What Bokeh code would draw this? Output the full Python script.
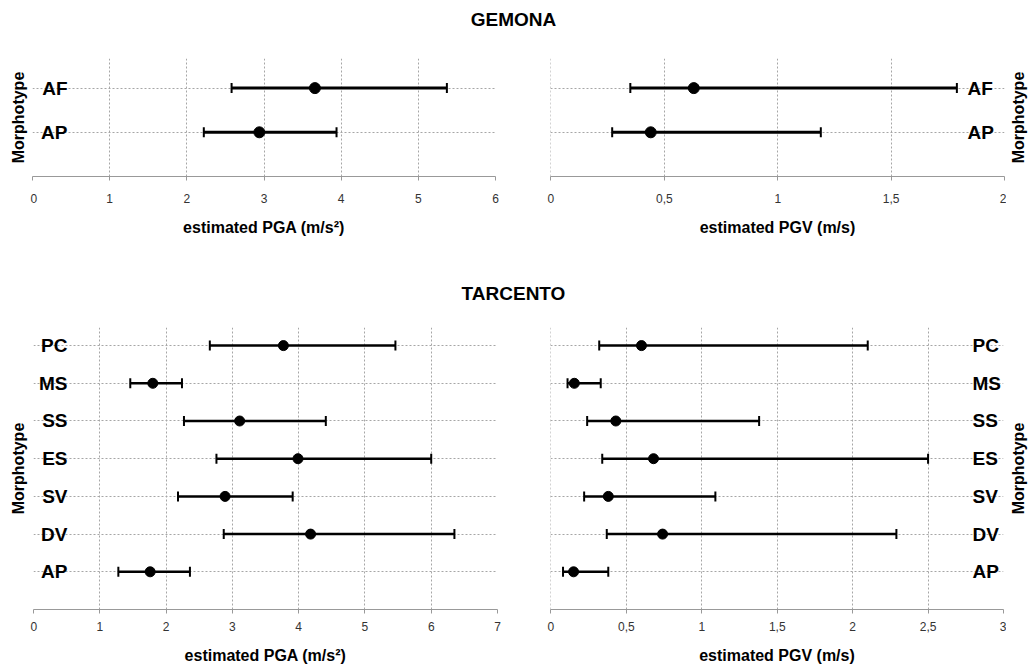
import math
from bokeh.plotting import figure
from bokeh.models import Range1d, FixedTicker, Whisker, ColumnDataSource, Label, TeeHead
from bokeh.layouts import column, row
from bokeh.embed import file_html
from bokeh.resources import INLINE

FONT = "Liberation Sans"

# ---------------- data ----------------
gemona_types = ["AP", "AF"]
gemona_pga_mean = [2.94, 3.66]
gemona_pga_low = [2.22, 2.58]
gemona_pga_high = [3.94, 5.37]
gemona_pgv_mean = [0.44, 0.63]
gemona_pgv_low = [0.27, 0.35]
gemona_pgv_high = [1.19, 1.79]

tarcento_types = ["AP", "DV", "SV", "ES", "SS", "MS", "PC"]
tarcento_pga_mean = [1.76, 4.18, 2.89, 3.99, 3.11, 1.80, 3.77]
tarcento_pga_low = [1.28, 2.87, 2.18, 2.76, 2.27, 1.46, 2.66]
tarcento_pga_high = [2.36, 6.35, 3.91, 6.00, 4.41, 2.24, 5.46]
tarcento_pgv_mean = [0.15, 0.74, 0.38, 0.68, 0.43, 0.155, 0.60]
tarcento_pgv_low = [0.08, 0.37, 0.22, 0.34, 0.24, 0.11, 0.32]
tarcento_pgv_high = [0.38, 2.29, 1.09, 2.50, 1.38, 0.33, 2.10]

gemona_pga_ticks = [0, 1, 2, 3, 4, 5, 6]
gemona_pga_labels = ["0", "1", "2", "3", "4", "5", "6"]
gemona_pgv_ticks = [0, 0.5, 1, 1.5, 2]
gemona_pgv_labels = ["0", "0,5", "1", "1,5", "2"]
tarcento_pga_ticks = [0, 1, 2, 3, 4, 5, 6, 7]
tarcento_pga_labels = ["0", "1", "2", "3", "4", "5", "6", "7"]
tarcento_pgv_ticks = [0, 0.5, 1, 1.5, 2, 2.5, 3]
tarcento_pgv_labels = ["0", "0,5", "1", "1,5", "2", "2,5", "3"]

pga_title = "estimated PGA (m/s²)"
pgv_title = "estimated PGV (m/s)"
y_title = "Morphotype"

GRID = "#a6a6a6"
AXIS = "#999999"


def title_fig(text, height, y_from_bottom):
    t = figure(width=1028, height=height, x_range=Range1d(0, 1), y_range=Range1d(0, 1),
               x_axis_location=None, y_axis_location=None, toolbar_location=None,
               output_backend="svg", min_border=0)
    t.grid.visible = False
    t.outline_line_color = None
    t.add_layout(Label(x=513, y=y_from_bottom, x_units="screen", y_units="screen", text=text,
                       text_align="center", text_baseline="middle", text_font=FONT,
                       text_font_size="19px", text_font_style="bold", text_color="black"))
    return t


def strip(width, height, left, top, bottom):
    """Narrow figure whose only content is the 'Morphotype' axis title."""
    t = figure(width=width, height=height, x_range=Range1d(0, 1), y_range=Range1d(0, 1),
               x_axis_location=None, y_axis_location="left", toolbar_location=None,
               output_backend="svg", min_border_left=left, min_border_right=0,
               min_border_top=top, min_border_bottom=bottom)
    t.grid.visible = False
    t.outline_line_color = None
    ya = t.yaxis[0]
    ya.ticker = FixedTicker(ticks=[])
    ya.axis_line_color = None
    ya.major_tick_line_color = None
    ya.minor_tick_line_color = None
    ya.major_tick_out = 0
    ya.major_tick_in = 0
    ya.axis_label = y_title
    ya.axis_label_standoff = 0
    ya.axis_label_text_font = FONT
    ya.axis_label_text_font_size = "16px"
    ya.axis_label_text_font_style = "bold"
    ya.axis_label_text_color = "black"
    return t


def panel(types, mean, low, high, xticks, xlabels, xtitle, side, width, height, borders,
          y_top, label_standoff, xlab_standoff, xtitle_standoff, bar_w, dot_size):
    ys = list(range(1, len(types) + 1))
    left, right, top, bottom = borders
    x0 = xticks[0] if side == "left" else xticks[0] - 0.001 * (xticks[-1] - xticks[0])
    p = figure(width=width, height=height,
               x_range=Range1d(x0, xticks[-1]), y_range=Range1d(0, y_top),
               y_axis_location=side, toolbar_location=None, output_backend="svg",
               min_border_left=left, min_border_right=right,
               min_border_top=top, min_border_bottom=bottom)
    p.outline_line_color = None
    p.background_fill_color = "white"
    p.border_fill_color = "white"

    # grids
    p.xgrid.ticker = FixedTicker(ticks=xticks)
    p.ygrid.ticker = FixedTicker(ticks=ys)
    for g in (p.xgrid, p.ygrid):
        g.grid_line_color = GRID
        g.grid_line_dash = "2 2"
        g.grid_line_width = 1

    # x axis
    xa = p.xaxis[0]
    xa.ticker = FixedTicker(ticks=xticks)
    xa.major_label_overrides = dict(zip(xticks, xlabels))
    xa.axis_line_color = AXIS
    xa.major_tick_line_color = AXIS
    xa.major_tick_out = 4
    xa.major_tick_in = 0
    xa.minor_tick_line_color = None
    xa.major_label_text_font = FONT
    xa.major_label_text_font_size = "12px"
    xa.major_label_text_color = "#333333"
    xa.major_label_standoff = xlab_standoff
    xa.axis_label = xtitle
    xa.axis_label_text_font = FONT
    xa.axis_label_text_font_size = "16px"
    xa.axis_label_text_font_style = "bold"
    xa.axis_label_text_color = "black"
    xa.axis_label_standoff = xtitle_standoff

    # y axis (category names drawn just inside the plotting area)
    ya = p.yaxis[0]
    ya.ticker = FixedTicker(ticks=ys)
    ya.major_label_overrides = dict(zip(ys, types))
    ya.axis_line_color = None
    ya.major_tick_line_color = None
    ya.minor_tick_line_color = None
    ya.major_label_text_font = FONT
    ya.major_label_text_font_size = "19px"
    ya.major_label_text_font_style = "bold"
    ya.major_label_text_color = "black"
    ya.major_label_standoff = label_standoff

    src = ColumnDataSource(dict(y=ys, mean=mean, low=low, high=high))
    w = Whisker(source=src, base="y", lower="low", upper="high", dimension="width",
                line_color="black", line_width=bar_w, level="glyph",
                upper_head=TeeHead(size=10, line_width=2, line_color="black"),
                lower_head=TeeHead(size=10, line_width=2, line_color="black"))
    p.add_layout(w)
    p.scatter(x="mean", y="y", source=src, size=dot_size, color="black")
    return p


t1 = title_fig("GEMONA", 38, 19)
s1 = strip(30, 212, 26, 20, 74)
p1 = panel(gemona_types, gemona_pga_mean, gemona_pga_low, gemona_pga_high,
           gemona_pga_ticks, gemona_pga_labels, pga_title, "left", 485, 212,
           (2, 20, 20, 74), 2.67, -41, 13, 13, 3, 11)
p2 = panel(gemona_types, gemona_pgv_mean, gemona_pgv_low, gemona_pgv_high,
           gemona_pgv_ticks, gemona_pgv_labels, pgv_title, "right", 491, 212,
           (35, 2, 20, 74), 2.67, -43, 13, 13, 3, 11)
s2 = strip(22, 212, 20, 20, 74)

t2 = title_fig("TARCENTO", 57, 14)
s3 = strip(30, 362, 26, 20, 60)
p3 = panel(tarcento_types, tarcento_pga_mean, tarcento_pga_low, tarcento_pga_high,
           tarcento_pga_ticks, tarcento_pga_labels, pga_title, "left", 485, 362,
           (3, 18, 20, 60), 7.48, -40, 8, 13, 2.5, 10)
p4 = panel(tarcento_types, tarcento_pgv_mean, tarcento_pgv_low, tarcento_pgv_high,
           tarcento_pgv_ticks, tarcento_pgv_labels, pgv_title, "right", 491, 362,
           (35, 3, 20, 60), 7.48, -37, 8, 13, 2.5, 10)
s4 = strip(22, 362, 20, 20, 60)

layout = column(t1, row(s1, p1, p2, s2), t2, row(s3, p3, p4, s4))

open("out.html", "w").write(file_html(layout, INLINE))
